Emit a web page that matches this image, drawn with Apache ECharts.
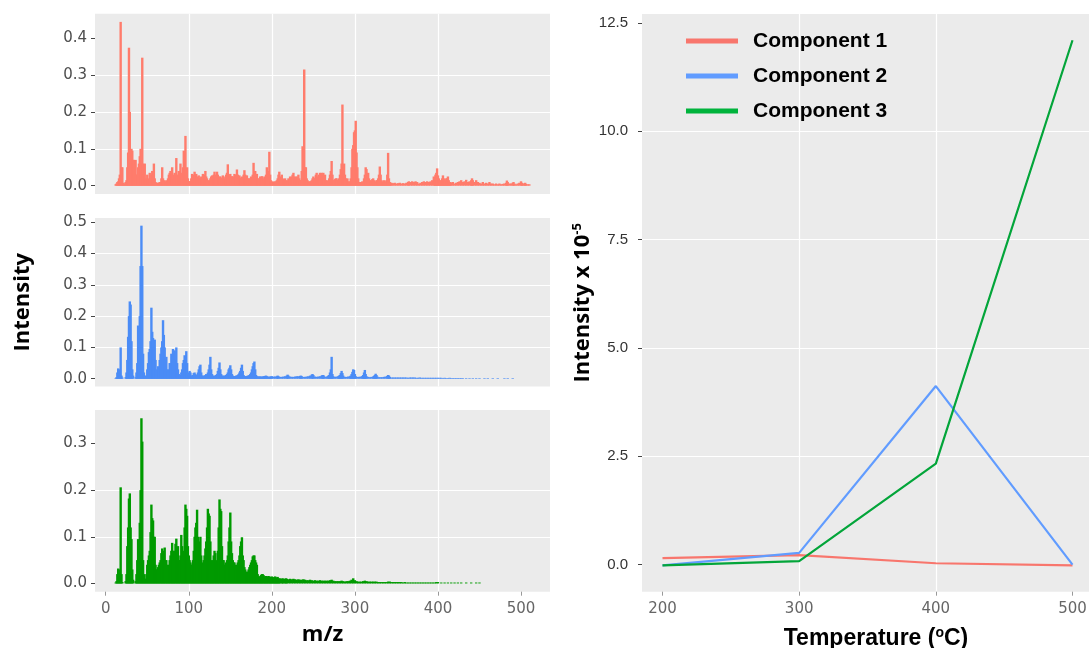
<!DOCTYPE html>
<html><head><meta charset="utf-8">
<script src="https://cdn.jsdelivr.net/npm/echarts@6/dist/echarts.min.js"></script>
<style>html,body{margin:0;padding:0;background:#fff}#c{width:1089px;height:648px}</style>
</head><body><div id="c"></div>
<script>
// ---- Mass spectra of the three components: [m/z, intensity] ----
const comp1Spectrum = [[12,0.004],[13,0.006],[14,0.01],[15,0.012],[16,0.02],[17,0.03],[18,0.444],[19,0.05],[20,0.05],[21,0.008],[22,0.006],[23,0.006],[24,0.01],[25,0.015],[26,0.05],[27,0.09],[28,0.374],[29,0.2],[30,0.06],[31,0.1],[32,0.095],[33,0.07],[34,0.07],[35,0.04],[36,0.07],[37,0.03],[38,0.03],[39,0.05],[40,0.06],[41,0.08],[42,0.1],[43,0.06],[44,0.347],[45,0.06],[46,0.03],[47,0.06],[48,0.02],[49,0.015],[50,0.03],[51,0.02],[52,0.01],[53,0.035],[54,0.02],[55,0.03],[56,0.04],[57,0.03],[58,0.06],[59,0.02],[60,0.01],[61,0.008],[62,0.005],[63,0.008],[64,0.008],[65,0.01],[66,0.01],[67,0.02],[68,0.05],[69,0.02],[70,0.012],[71,0.015],[72,0.01],[73,0.012],[74,0.015],[75,0.02],[76,0.03],[77,0.035],[78,0.04],[79,0.03],[80,0.05],[81,0.03],[82,0.02],[83,0.035],[84,0.03],[85,0.075],[86,0.03],[87,0.025],[88,0.04],[89,0.03],[90,0.06],[91,0.03],[92,0.035],[93,0.05],[94,0.095],[95,0.06],[96,0.135],[97,0.04],[98,0.05],[99,0.02],[100,0.012],[101,0.012],[102,0.012],[103,0.02],[104,0.032],[105,0.03],[106,0.025],[107,0.038],[108,0.03],[109,0.032],[110,0.025],[111,0.02],[112,0.028],[113,0.02],[114,0.02],[115,0.025],[116,0.02],[117,0.032],[118,0.025],[119,0.03],[120,0.04],[121,0.025],[122,0.02],[123,0.015],[124,0.012],[125,0.015],[126,0.02],[127,0.025],[128,0.028],[129,0.02],[130,0.03],[131,0.038],[132,0.025],[133,0.03],[134,0.038],[135,0.03],[136,0.02],[137,0.025],[138,0.025],[139,0.02],[140,0.022],[141,0.028],[142,0.02],[143,0.018],[144,0.025],[145,0.03],[146,0.035],[147,0.058],[148,0.03],[149,0.025],[150,0.032],[151,0.022],[152,0.026],[153,0.02],[154,0.025],[155,0.032],[156,0.025],[157,0.03],[158,0.044],[159,0.03],[160,0.02],[161,0.028],[162,0.02],[163,0.022],[164,0.025],[165,0.02],[166,0.03],[167,0.042],[168,0.03],[169,0.025],[170,0.028],[171,0.02],[172,0.02],[173,0.015],[174,0.02],[175,0.025],[176,0.02],[177,0.03],[178,0.062],[179,0.035],[180,0.04],[181,0.025],[182,0.032],[183,0.02],[184,0.015],[185,0.02],[186,0.025],[187,0.02],[188,0.026],[189,0.02],[190,0.015],[191,0.025],[192,0.02],[193,0.03],[194,0.05],[195,0.03],[196,0.04],[197,0.092],[198,0.03],[199,0.015],[200,0.012],[201,0.01],[202,0.01],[203,0.012],[204,0.01],[205,0.012],[206,0.015],[207,0.02],[208,0.03],[209,0.038],[210,0.025],[211,0.02],[212,0.03],[213,0.02],[214,0.015],[215,0.018],[216,0.02],[217,0.015],[218,0.012],[219,0.015],[220,0.02],[221,0.018],[222,0.025],[223,0.02],[224,0.025],[225,0.03],[226,0.035],[227,0.025],[228,0.02],[229,0.025],[230,0.02],[231,0.025],[232,0.03],[233,0.02],[234,0.015],[235,0.015],[236,0.04],[237,0.107],[238,0.05],[239,0.315],[240,0.05],[241,0.05],[242,0.02],[243,0.015],[244,0.012],[245,0.01],[246,0.012],[247,0.012],[248,0.015],[249,0.02],[250,0.025],[251,0.02],[252,0.02],[253,0.03],[254,0.035],[255,0.025],[256,0.02],[257,0.03],[258,0.035],[259,0.03],[260,0.035],[261,0.03],[262,0.035],[263,0.02],[264,0.03],[265,0.015],[266,0.012],[267,0.015],[268,0.012],[269,0.02],[270,0.03],[271,0.04],[272,0.067],[273,0.03],[274,0.015],[275,0.015],[276,0.018],[277,0.02],[278,0.02],[279,0.015],[280,0.015],[281,0.02],[282,0.03],[283,0.045],[284,0.06],[285,0.22],[286,0.05],[287,0.06],[288,0.03],[289,0.02],[290,0.015],[291,0.02],[292,0.012],[293,0.01],[294,0.012],[295,0.02],[296,0.05],[297,0.1],[298,0.11],[299,0.145],[300,0.15],[301,0.176],[302,0.09],[303,0.05],[304,0.02],[305,0.01],[306,0.008],[307,0.01],[308,0.01],[309,0.012],[310,0.01],[311,0.02],[312,0.03],[313,0.05],[314,0.045],[315,0.03],[316,0.035],[317,0.02],[318,0.015],[319,0.012],[320,0.015],[321,0.018],[322,0.02],[323,0.015],[324,0.012],[325,0.01],[326,0.015],[327,0.015],[328,0.02],[329,0.03],[330,0.052],[331,0.03],[332,0.015],[333,0.01],[334,0.012],[335,0.015],[336,0.012],[337,0.01],[338,0.015],[339,0.03],[340,0.089],[341,0.02],[342,0.01],[343,0.008],[344,0.008],[346,0.007],[348,0.008],[350,0.006],[352,0.007],[354,0.008],[356,0.006],[358,0.007],[360,0.006],[362,0.008],[364,0.01],[365,0.012],[367,0.01],[369,0.012],[371,0.01],[373,0.012],[375,0.01],[377,0.006],[379,0.008],[381,0.01],[383,0.012],[385,0.01],[387,0.012],[389,0.01],[391,0.012],[393,0.015],[395,0.025],[396,0.02],[397,0.03],[398,0.035],[399,0.047],[400,0.028],[401,0.02],[402,0.015],[403,0.012],[404,0.015],[405,0.02],[406,0.028],[407,0.02],[408,0.012],[409,0.015],[410,0.02],[411,0.02],[412,0.025],[413,0.015],[414,0.01],[415,0.01],[416,0.008],[418,0.01],[420,0.006],[422,0.008],[424,0.01],[426,0.012],[428,0.015],[430,0.01],[432,0.012],[434,0.016],[436,0.01],[438,0.012],[440,0.015],[441,0.02],[442,0.015],[444,0.01],[446,0.015],[448,0.01],[450,0.008],[452,0.006],[454,0.01],[456,0.006],[458,0.008],[460,0.006],[462,0.01],[464,0.006],[466,0.006],[468,0.004],[470,0.006],[472,0.004],[474,0.006],[476,0.004],[478,0.005],[480,0.006],[482,0.008],[483,0.014],[484,0.01],[486,0.006],[488,0.006],[490,0.008],[491,0.01],[492,0.006],[494,0.004],[496,0.006],[498,0.008],[500,0.012],[501,0.008],[502,0.006],[504,0.006],[505,0.008],[506,0.005],[508,0.004],[510,0.004]];

const comp2Spectrum = [[12,0.002],[13,0.005],[14,0.02],[15,0.033],[16,0.03],[17,0.01],[18,0.1],[19,0.01],[20,0.004],[24,0.005],[25,0.02],[26,0.06],[27,0.134],[28,0.2],[29,0.247],[30,0.237],[31,0.12],[32,0.03],[33,0.01],[36,0.005],[37,0.02],[38,0.05],[39,0.17],[40,0.1],[41,0.2],[42,0.36],[43,0.489],[44,0.36],[45,0.08],[46,0.02],[47,0.01],[48,0.008],[49,0.01],[50,0.03],[51,0.05],[52,0.085],[53,0.095],[54,0.12],[55,0.227],[56,0.15],[57,0.13],[58,0.1],[59,0.125],[60,0.06],[61,0.03],[62,0.02],[63,0.04],[64,0.03],[65,0.06],[66,0.08],[67,0.1],[68,0.12],[69,0.187],[70,0.14],[71,0.1],[72,0.06],[73,0.07],[74,0.03],[75,0.025],[76,0.03],[77,0.05],[78,0.05],[79,0.08],[80,0.07],[81,0.095],[82,0.09],[83,0.09],[84,0.06],[85,0.1],[86,0.05],[87,0.03],[88,0.015],[89,0.01],[90,0.012],[91,0.02],[92,0.03],[93,0.05],[94,0.06],[95,0.075],[96,0.07],[97,0.088],[98,0.05],[99,0.02],[100,0.012],[101,0.025],[102,0.02],[103,0.01],[104,0.01],[105,0.012],[106,0.018],[107,0.02],[108,0.015],[109,0.012],[110,0.012],[111,0.02],[112,0.03],[113,0.04],[114,0.045],[115,0.02],[116,0.01],[117,0.01],[118,0.008],[119,0.01],[120,0.012],[121,0.015],[122,0.012],[123,0.02],[124,0.03],[125,0.045],[126,0.07],[127,0.03],[128,0.015],[129,0.01],[130,0.008],[131,0.01],[132,0.01],[133,0.012],[134,0.015],[135,0.025],[136,0.035],[137,0.052],[138,0.03],[139,0.015],[140,0.01],[141,0.01],[142,0.008],[143,0.01],[144,0.01],[145,0.012],[146,0.015],[147,0.02],[148,0.03],[149,0.035],[150,0.043],[151,0.03],[152,0.015],[153,0.01],[154,0.008],[155,0.008],[156,0.008],[157,0.01],[158,0.01],[159,0.012],[160,0.015],[161,0.02],[162,0.025],[163,0.035],[164,0.045],[165,0.025],[166,0.012],[167,0.008],[168,0.008],[169,0.008],[170,0.008],[171,0.01],[172,0.01],[173,0.012],[174,0.015],[175,0.02],[176,0.03],[177,0.04],[178,0.05],[179,0.055],[180,0.03],[181,0.012],[182,0.008],[183,0.007],[184,0.007],[185,0.007],[186,0.007],[187,0.007],[188,0.006],[189,0.007],[190,0.008],[191,0.008],[192,0.009],[193,0.01],[194,0.008],[195,0.007],[196,0.006],[197,0.006],[198,0.007],[199,0.007],[200,0.008],[202,0.007],[204,0.007],[206,0.008],[207,0.01],[208,0.008],[210,0.006],[212,0.006],[214,0.007],[216,0.008],[218,0.01],[219,0.013],[220,0.01],[222,0.007],[224,0.006],[226,0.006],[228,0.007],[230,0.008],[232,0.008],[234,0.009],[235,0.01],[236,0.008],[238,0.006],[240,0.006],[242,0.007],[244,0.008],[246,0.01],[248,0.013],[249,0.015],[250,0.012],[252,0.007],[254,0.006],[256,0.007],[258,0.008],[260,0.01],[261,0.012],[262,0.012],[263,0.008],[265,0.006],[267,0.008],[268,0.01],[269,0.012],[270,0.02],[271,0.03],[272,0.07],[273,0.015],[274,0.008],[276,0.006],[278,0.007],[280,0.008],[281,0.01],[282,0.012],[283,0.018],[284,0.025],[285,0.018],[286,0.01],[288,0.006],[290,0.006],[292,0.007],[294,0.008],[295,0.01],[296,0.015],[297,0.022],[298,0.03],[299,0.028],[300,0.015],[301,0.008],[303,0.006],[305,0.006],[307,0.007],[309,0.009],[310,0.012],[311,0.02],[312,0.028],[313,0.015],[314,0.008],[316,0.006],[318,0.005],[320,0.006],[322,0.007],[323,0.009],[324,0.012],[325,0.016],[326,0.012],[327,0.007],[329,0.005],[331,0.005],[333,0.005],[335,0.006],[337,0.007],[339,0.009],[340,0.012],[341,0.01],[342,0.006],[344,0.004],[346,0.004],[348,0.004],[350,0.004],[352,0.004],[354,0.004],[356,0.004],[358,0.004],[360,0.004],[362,0.004],[364,0.003],[366,0.004],[368,0.004],[370,0.004],[372,0.004],[374,0.003],[376,0.003],[378,0.004],[380,0.003],[382,0.003],[384,0.003],[386,0.003],[388,0.003],[390,0.003],[392,0.003],[394,0.003],[396,0.003],[398,0.003],[400,0.003],[402,0.003],[404,0.003],[406,0.002],[408,0.003],[410,0.002],[412,0.002],[414,0.003],[416,0.002],[418,0.002],[420,0.002],[422,0.002],[424,0.002],[426,0.002],[428,0.002],[430,0.002],[434,0.002],[438,0.002],[442,0.002],[446,0.002],[450,0.002],[456,0.002],[460,0.002],[466,0.002],[472,0.002],[480,0.002],[484,0.002],[490,0.002]];

const comp3Spectrum = [[12,0.002],[13,0.005],[14,0.02],[15,0.032],[16,0.03],[17,0.01],[18,0.206],[19,0.02],[20,0.003],[24,0.005],[25,0.02],[26,0.08],[27,0.12],[28,0.182],[29,0.193],[30,0.12],[31,0.095],[32,0.03],[33,0.008],[36,0.005],[37,0.02],[38,0.05],[39,0.095],[40,0.08],[41,0.13],[42,0.2],[43,0.354],[44,0.304],[45,0.05],[46,0.02],[47,0.01],[48,0.01],[49,0.02],[50,0.04],[51,0.05],[52,0.06],[53,0.07],[54,0.11],[55,0.169],[56,0.14],[57,0.135],[58,0.1],[59,0.1],[60,0.04],[61,0.03],[62,0.03],[63,0.035],[64,0.04],[65,0.045],[66,0.05],[67,0.065],[68,0.075],[69,0.07],[70,0.06],[71,0.077],[72,0.05],[73,0.05],[74,0.04],[75,0.035],[76,0.04],[77,0.05],[78,0.06],[79,0.07],[80,0.087],[81,0.07],[82,0.06],[83,0.07],[84,0.085],[85,0.096],[86,0.07],[87,0.08],[88,0.05],[89,0.05],[90,0.06],[91,0.104],[92,0.08],[93,0.06],[94,0.07],[95,0.12],[96,0.169],[97,0.16],[98,0.145],[99,0.08],[100,0.06],[101,0.05],[102,0.045],[103,0.04],[104,0.04],[105,0.05],[106,0.07],[107,0.1],[108,0.12],[109,0.13],[110,0.158],[111,0.1],[112,0.08],[113,0.09],[114,0.1],[115,0.06],[116,0.045],[117,0.04],[118,0.05],[119,0.06],[120,0.075],[121,0.09],[122,0.12],[123,0.16],[124,0.15],[125,0.145],[126,0.09],[127,0.05],[128,0.045],[129,0.05],[130,0.06],[131,0.07],[132,0.065],[133,0.05],[134,0.045],[135,0.07],[136,0.12],[137,0.18],[138,0.16],[139,0.155],[140,0.08],[141,0.05],[142,0.05],[143,0.04],[144,0.04],[145,0.045],[146,0.05],[147,0.06],[148,0.09],[149,0.12],[150,0.152],[151,0.09],[152,0.065],[153,0.05],[154,0.045],[155,0.045],[156,0.04],[157,0.035],[158,0.04],[159,0.045],[160,0.05],[161,0.06],[162,0.08],[163,0.09],[164,0.099],[165,0.06],[166,0.05],[167,0.035],[168,0.03],[169,0.025],[170,0.025],[171,0.025],[172,0.03],[173,0.035],[174,0.04],[175,0.045],[176,0.05],[177,0.058],[178,0.06],[179,0.06],[180,0.05],[181,0.045],[182,0.04],[183,0.02],[184,0.015],[185,0.015],[186,0.015],[187,0.018],[188,0.02],[189,0.02],[190,0.018],[191,0.015],[192,0.015],[193,0.016],[194,0.015],[195,0.014],[196,0.016],[197,0.015],[198,0.013],[199,0.014],[200,0.015],[201,0.013],[202,0.012],[203,0.014],[204,0.015],[205,0.013],[206,0.012],[207,0.014],[208,0.011],[209,0.01],[210,0.011],[212,0.01],[213,0.011],[214,0.01],[216,0.01],[217,0.011],[218,0.01],[220,0.009],[222,0.01],[224,0.009],[226,0.01],[228,0.009],[230,0.008],[232,0.009],[234,0.008],[236,0.008],[238,0.009],[240,0.008],[242,0.007],[244,0.007],[246,0.008],[248,0.007],[250,0.006],[252,0.007],[254,0.006],[256,0.006],[258,0.007],[260,0.006],[262,0.006],[264,0.006],[266,0.006],[268,0.006],[270,0.007],[272,0.008],[274,0.006],[276,0.005],[278,0.005],[280,0.005],[282,0.005],[284,0.006],[286,0.005],[288,0.004],[290,0.005],[292,0.005],[294,0.006],[296,0.008],[298,0.011],[300,0.007],[302,0.005],[304,0.004],[306,0.004],[308,0.004],[310,0.005],[312,0.006],[314,0.005],[316,0.004],[318,0.004],[320,0.004],[322,0.004],[324,0.004],[326,0.004],[328,0.003],[330,0.003],[332,0.003],[334,0.003],[336,0.003],[338,0.003],[340,0.004],[342,0.004],[344,0.003],[346,0.003],[348,0.003],[350,0.003],[352,0.003],[354,0.003],[356,0.003],[358,0.002],[360,0.003],[362,0.002],[364,0.002],[366,0.002],[368,0.002],[370,0.002],[372,0.002],[374,0.002],[376,0.002],[378,0.002],[380,0.002],[382,0.002],[384,0.002],[386,0.002],[388,0.002],[390,0.002],[392,0.002],[394,0.002],[396,0.002],[398,0.003],[400,0.003],[404,0.002],[408,0.002],[412,0.002],[416,0.002],[420,0.002],[424,0.002],[428,0.002],[434,0.002],[440,0.002],[446,0.002],[450,0.002]];

// ---- Temperature profiles (Intensity x 10^-5) ----
const seriesNames = ['Component 1', 'Component 2', 'Component 3'];
const temperatures = [200, 300, 400, 500];
const comp1Temp = [0.15, 0.22, 0.03, -0.02];
const comp2Temp = [-0.02, 0.27, 4.12, 0.0];
const comp3Temp = [-0.02, 0.08, 2.33, 12.1];

// ---- Tick labels ----
const mzTicks = [0, 100, 200, 300, 400, 500];
const topTicks = [0, 0.1, 0.2, 0.3, 0.4];
const midTicks = [0, 0.1, 0.2, 0.3, 0.4, 0.5];
const botTicks = [0, 0.1, 0.2, 0.3];
const tempTicks = [200, 300, 400, 500];
const tempIntensityTicks = [0, 2.5, 5, 7.5, 10, 12.5];

const BG = '#EBEBEB';
const tickFont = { fontFamily: 'DejaVu Sans', fontSize: 15, color: '#4d4d4d' };
const gridLine = { show: true, showMinLine: false, showMaxLine: false, lineStyle: { color: '#ffffff', width: 1.2 } };
const titleFont = { fontFamily: 'Open Sans', fontWeight: 'bold', fontSize: 22, color: '#000', lineHeight: 24 };
const noLine = { show: false, onZero: false };

function leftY(idx, min, max, ticks, extra) {
  return Object.assign({
    type: 'value', gridIndex: idx, min: min, max: max, minInterval: 0.1, maxInterval: 0.1,
    axisLine: noLine,
    axisTick: { show: true, length: 4, customValues: ticks, lineStyle: { color: '#444' } },
    axisLabel: Object.assign({ customValues: ticks, margin: 8, formatter: v => v.toFixed(1) }, tickFont),
    splitLine: gridLine
  }, extra || {});
}
function leftX(idx, showLabels, extra) {
  return Object.assign({
    type: 'value', gridIndex: idx, min: -12.9, max: 534.9, minInterval: 100, maxInterval: 100,
    axisLine: noLine,
    axisTick: { show: showLabels, length: 4, customValues: mzTicks, lineStyle: { color: '#999' } },
    axisLabel: Object.assign({ show: showLabels, customValues: mzTicks, margin: 10 }, tickFont, { color: '#666' }),
    splitLine: gridLine
  }, extra || {});
}
function gridBox(o) {
  return Object.assign({ show: true, backgroundColor: BG, borderWidth: 0, containLabel: false, outerBoundsMode: 'none' }, o);
}
function spectrumSeries(idx, data, color) {
  return { type: 'bar', name: 'spectrum' + (idx + 1), xAxisIndex: idx, yAxisIndex: idx, data: data,
           barWidth: 2.4, barMinWidth: 2.4, silent: true, itemStyle: { color: color } };
}

const chart = echarts.init(document.getElementById('c'), null, { renderer: 'canvas' });
chart.setOption({
  animation: false,
  backgroundColor: '#ffffff',
  grid: [
    gridBox({ left: 95, width: 455, top: 13.7, height: 180.2 }),
    gridBox({ left: 95, width: 455, top: 218, height: 168.4 }),
    gridBox({ left: 95, width: 455, top: 410, height: 181.7 }),
    gridBox({ left: 642, width: 451, top: 14, height: 577.7 })
  ],
  xAxis: [
    leftX(0, false),
    leftX(1, false),
    leftX(2, true, { name: 'm/z', nameLocation: 'middle', nameGap: 31, nameTextStyle: titleFont }),
    {
      type: 'value', gridIndex: 3, min: 185, max: 515, minInterval: 100, maxInterval: 100,
      axisLine: noLine,
      axisTick: { show: true, length: 4, customValues: tempTicks, lineStyle: { color: '#999' } },
      axisLabel: Object.assign({ customValues: tempTicks, margin: 10 }, tickFont, { color: '#666' }),
      splitLine: gridLine,
      name: '{a|Temperature (}{b|o}{a|C)}', nameLocation: 'middle', nameGap: 34,
      nameTextStyle: {
        padding: [0, 0, 0, 17],
        rich: {
          a: { fontFamily: 'Liberation Sans', fontWeight: 'bold', fontSize: 23, color: '#000', lineHeight: 26 },
          b: { fontFamily: 'Liberation Sans', fontWeight: 'bold', fontSize: 14, color: '#000', lineHeight: 16, verticalAlign: 'top' }
        }
      }
    }
  ],
  yAxis: [
    leftY(0, -0.0222, 0.4662, topTicks),
    leftY(1, -0.0245, 0.5135, midTicks, { name: 'Intensity', nameLocation: 'middle', nameRotate: 90, nameGap: 60, nameTextStyle: titleFont }),
    leftY(2, -0.0177, 0.3717, botTicks),
    {
      type: 'value', gridIndex: 3, min: -0.626, max: 12.706, minInterval: 2.5, maxInterval: 2.5,
      axisLine: noLine,
      axisTick: { show: true, length: 4, customValues: tempIntensityTicks, lineStyle: { color: '#444' } },
      axisLabel: { customValues: tempIntensityTicks, margin: 14, formatter: v => v.toFixed(1), fontFamily: 'Liberation Sans', fontSize: 15, color: '#333' },
      splitLine: gridLine,
      name: '{a|Intensity x 10}{b|-5}', nameLocation: 'middle', nameRotate: 90, nameGap: 47,
      nameTextStyle: {
        rich: {
          a: { fontFamily: 'Open Sans', fontWeight: 'bold', fontSize: 22, color: '#000', lineHeight: 24 },
          b: { fontFamily: 'Open Sans', fontWeight: 'bold', fontSize: 13, color: '#000', lineHeight: 14, verticalAlign: 'top' }
        }
      }
    }
  ],
  legend: {
    data: seriesNames, orient: 'vertical', left: 681, top: 24,
    itemWidth: 52, itemHeight: 5, itemGap: 11, icon: 'rect', selectedMode: false,
    textStyle: { fontFamily: 'Liberation Sans', fontWeight: 'bold', fontSize: 21, color: '#000', lineHeight: 24, padding: [0, 0, 0, 10] }
  },
  series: [
    spectrumSeries(0, comp1Spectrum, '#FF7C6C'),
    spectrumSeries(1, comp2Spectrum, '#4B8CF6'),
    spectrumSeries(2, comp3Spectrum, '#009A00'),
    { type: 'line', name: seriesNames[0], xAxisIndex: 3, yAxisIndex: 3, data: temperatures.map((t, i) => [t, comp1Temp[i]]), showSymbol: false, symbol: 'none', lineStyle: { width: 2.2, color: '#F8766D' }, itemStyle: { color: '#F8766D' } },
    { type: 'line', name: seriesNames[1], xAxisIndex: 3, yAxisIndex: 3, data: temperatures.map((t, i) => [t, comp2Temp[i]]), showSymbol: false, symbol: 'none', lineStyle: { width: 2.2, color: '#619CFF' }, itemStyle: { color: '#619CFF' } },
    { type: 'line', name: seriesNames[2], xAxisIndex: 3, yAxisIndex: 3, data: temperatures.map((t, i) => [t, comp3Temp[i]]), showSymbol: false, symbol: 'none', lineStyle: { width: 2.2, color: '#03A53A' }, itemStyle: { color: '#00B33C' } }
  ]
});
</script></body></html>
